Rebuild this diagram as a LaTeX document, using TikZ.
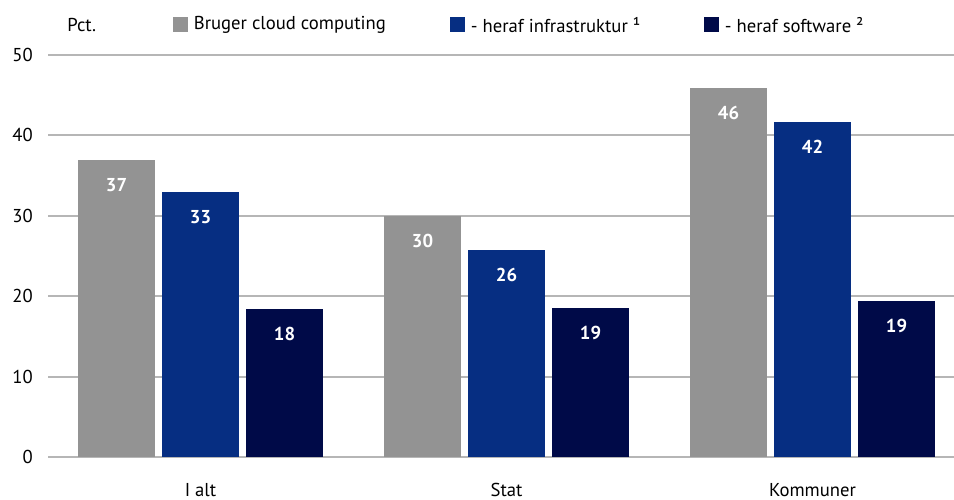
\documentclass[tikz,border=0pt]{standalone}
\usepackage{fontspec}
\setmainfont{PT Sans}
\usetikzlibrary{positioning}
\definecolor{cloudgray}{RGB}{147,147,147}
\definecolor{infrablue}{RGB}{6,46,130}
\definecolor{softnavy}{RGB}{0,10,72}
\definecolor{gridgray}{RGB}{182,182,182}

\begin{document}
\begin{tikzpicture}[
  x=0.75pt, y=0.75pt,
  lbl/.style={font=\fontsize{14}{16}\selectfont, inner sep=0pt},
  val/.style={font=\fontsize{14}{16}\selectfont\bfseries, text=white, inner sep=0pt},
  gridln/.style={draw=gridgray, line width=1.5pt},
  key/.style={minimum size=11.25pt, inner sep=0pt}
]
  \useasboundingbox (0,0) rectangle (954,500);

  %% -- Gridlines and y-axis labels
  \foreach \v in {0,10,...,50} {
    \draw[gridln] (48,{43+8.04*\v}) -- (954,{43+8.04*\v});
    \node[lbl, anchor=east] (tick\v) at (33,{43+8.04*\v}) {\v};
  }

  %% -- Bars (gray, blue, navy) per group
  \foreach \g/\a/\ta/\b/\tb/\c/\tc/\name [count=\i] in {
      78/36.9/37/33.0/33/18.4/18/I alt,
      384/30.0/30/25.7/26/18.5/19/Stat,
      690/45.9/46/41.7/42/19.4/19/Kommuner} {
    \fill[cloudgray] (\g,43) rectangle ({\g+77},{43+8.04*\a});
    \fill[infrablue] ({\g+84},43) rectangle ({\g+161},{43+8.04*\b});
    \fill[softnavy]  ({\g+168},43) rectangle ({\g+245},{43+8.04*\c});
    \node[val] (val\i a) at ({\g+38.5},{43+8.04*\a-25}) {\ta};
    \node[val] (val\i b) at ({\g+122.5},{43+8.04*\b-25}) {\tb};
    \node[val] (val\i c) at ({\g+206.5},{43+8.04*\c-25}) {\tc};
    \node[lbl] (cat\i) at ({\g+122.5},10) {\name};
  }

  %% -- Legend
  \node[lbl, anchor=west] (unit) at (67,475) {Pct.};
  \node[key, fill=cloudgray] (key1) at (180.5,475) {};
  \node[lbl, right=4pt of key1] (leg1) {Bruger cloud computing};
  \node[key, fill=infrablue] (key2) at (457.5,475) {};
  \node[lbl, right=4pt of key2] (leg2) {- heraf infrastruktur ¹};
  \node[key, fill=softnavy] (key3) at (711.5,475) {};
  \node[lbl, right=4pt of key3] (leg3) {- heraf software ²};

\end{tikzpicture}
\end{document}
